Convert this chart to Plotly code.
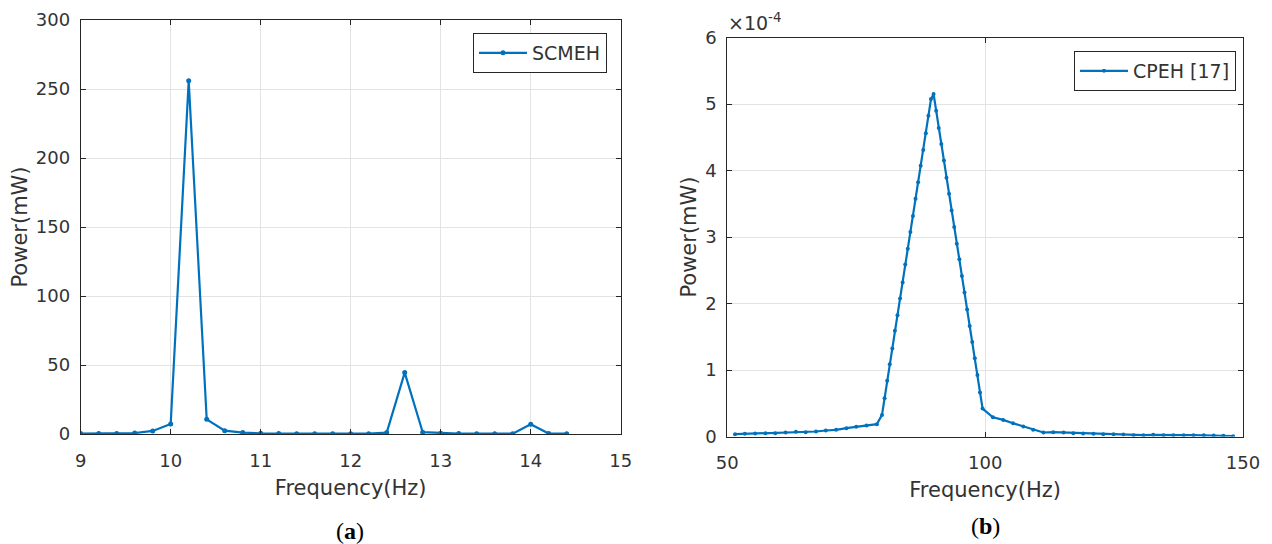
import plotly.graph_objects as go

# (a) SCMEH: output power versus excitation frequency
freq_a = [9.0, 9.2, 9.4, 9.6, 9.8, 10.0, 10.2, 10.4, 10.6, 10.8, 11.0, 11.2, 11.4, 11.6,
          11.8, 12.0, 12.2, 12.4, 12.6, 12.8, 13.0, 13.2, 13.4, 13.6, 13.8, 14.0, 14.2, 14.4]
power_a = [0.3, 0.3, 0.4, 0.7, 2.2, 7.2, 256.0, 10.6, 2.4, 1.0, 0.5, 0.3, 0.2, 0.2,
           0.2, 0.2, 0.2, 1.0, 44.5, 1.3, 0.6, 0.3, 0.2, 0.2, 0.2, 7.0, 0.3, 0.2]

# (b) CPEH [17]: output power in units of 1e-4 mW
freq_b = [51.5, 53.4, 55.4, 57.4, 59.3, 61.3, 63.3, 65.2, 67.2, 69.1, 71.1, 73.1, 75.0, 77.0,
          79.0, 80.0, 80.5, 81.0, 81.5, 82.0, 82.5, 83.0, 83.5, 84.0, 84.5, 85.0, 85.5, 86.0,
          86.5, 87.0, 87.5, 88.0, 88.5, 89.0, 89.5, 90.0, 90.5, 91.0, 91.5, 92.0, 92.5, 93.0,
          93.5, 94.0, 94.5, 95.0, 95.5, 96.0, 96.5, 97.0, 97.5, 98.0, 98.5, 99.0, 99.5,
          101.5, 103.5, 105.4, 107.4, 109.3, 111.3, 113.2, 115.2, 117.1, 119.0, 121.0, 122.9,
          124.9, 126.8, 128.8, 130.7, 132.6, 134.6, 136.5, 138.5, 140.4, 142.4, 144.3, 146.2, 148.1]
power_b = [0.035, 0.04, 0.045, 0.05, 0.05, 0.06, 0.07, 0.065, 0.075, 0.09, 0.10, 0.125, 0.145, 0.165,
           0.185, 0.325, 0.575, 0.84, 1.085, 1.325, 1.59, 1.825, 2.075, 2.315, 2.585, 2.825, 3.075, 3.315,
           3.575, 3.825, 4.07, 4.31, 4.56, 4.825, 5.075, 5.15, 4.90, 4.64, 4.40, 4.15, 3.89, 3.65,
           3.40, 3.15, 2.90, 2.665, 2.415, 2.165, 1.91, 1.66, 1.42, 1.175, 0.925, 0.66, 0.42,
           0.29, 0.25, 0.20, 0.15, 0.10, 0.06, 0.065, 0.06, 0.05, 0.045, 0.04, 0.035,
           0.035, 0.03, 0.02, 0.02, 0.025, 0.02, 0.02, 0.02, 0.02, 0.02, 0.015, 0.01, 0.005]

ticks_a_x = [9, 10, 11, 12, 13, 14, 15]
ticks_a_y = [0, 50, 100, 150, 200, 250, 300]
ticks_b_x = [50, 100, 150]
ticks_b_y = [0, 1, 2, 3, 4, 5, 6]

BLUE = "#0072BD"
AXIS = "#262626"
TEXT = "#333333"
GRID = "#e3e3e3"
FONT = "DejaVu Sans"
W, H = 1272, 544

fig = go.Figure()

fig.add_trace(go.Scatter(
    x=freq_a, y=power_a, mode="lines+markers", name="SCMEH",
    line=dict(color=BLUE, width=2.2), marker=dict(color=BLUE, size=5, symbol="circle"),
    xaxis="x", yaxis="y", legend="legend",
))
fig.add_trace(go.Scatter(
    x=freq_b, y=power_b, mode="lines+markers", name="CPEH [17]",
    line=dict(color=BLUE, width=2.2), marker=dict(color=BLUE, size=4, symbol="circle"),
    xaxis="x2", yaxis="y2", legend="legend2",
))

def px_x(p):
    return p / W

def px_y(p):
    return (H - p) / H

common = dict(
    showline=True, linecolor=AXIS, linewidth=1, mirror="ticks",
    ticks="inside", ticklen=5, tickcolor=AXIS, tickwidth=1,
    showgrid=True, gridcolor=GRID, gridwidth=1, zeroline=False,
    automargin=False,
    tickfont=dict(family=FONT, size=18, color=TEXT),
    title_font=dict(family=FONT, size=21, color=TEXT),
)

fig.update_layout(
    width=W, height=H,
    margin=dict(l=0, r=0, t=0, b=0),
    paper_bgcolor="white", plot_bgcolor="white",
    font=dict(family=FONT, color=TEXT),
    xaxis=dict(domain=[px_x(80.7), px_x(620.7)], range=[9, 15], tickvals=ticks_a_x,
               ticklabelstandoff=10,
               title=dict(text="Frequency(Hz)", standoff=10), anchor="y", **common),
    yaxis=dict(domain=[px_y(434), px_y(20)], range=[0, 300], tickvals=ticks_a_y,
               ticklabelstandoff=6,
               title=dict(text="Power(mW)", standoff=2), anchor="x", **common),
    xaxis2=dict(domain=[px_x(727.3), px_x(1243)], range=[50, 150], tickvals=ticks_b_x,
                ticklabelstandoff=10,
                title=dict(text="Frequency(Hz)", standoff=10), anchor="y2", **common),
    yaxis2=dict(domain=[px_y(436.5), px_y(37.5)], range=[0, 6], tickvals=ticks_b_y,
                ticklabelstandoff=6,
                title=dict(text="Power(mW)", standoff=2), anchor="x2", **common),
    legend=dict(x=px_x(607), y=px_y(33), xanchor="right", yanchor="top",
                bgcolor="white", bordercolor=AXIS, borderwidth=1,
                font=dict(family=FONT, size=19, color=TEXT),
                itemwidth=48, tracegroupgap=0),
    legend2=dict(x=px_x(1236), y=px_y(51), xanchor="right", yanchor="top",
                 bgcolor="white", bordercolor=AXIS, borderwidth=1,
                 font=dict(family=FONT, size=19, color=TEXT),
                 itemwidth=48, tracegroupgap=0),
    showlegend=True,
    annotations=[
        dict(text="×10<sup>-4</sup>", x=px_x(726), y=px_y(36), xref="paper", yref="paper",
             xanchor="left", yanchor="bottom", showarrow=False,
             font=dict(family=FONT, size=19, color=TEXT)),
        dict(text="(<b>a</b>)", x=px_x(350), y=px_y(531), xref="paper", yref="paper",
             xanchor="center", yanchor="middle", showarrow=False,
             font=dict(family="Liberation Serif", size=24, color="black")),
        dict(text="(<b>b</b>)", x=px_x(985), y=px_y(526), xref="paper", yref="paper",
             xanchor="center", yanchor="middle", showarrow=False,
             font=dict(family="Liberation Serif", size=24, color="black")),
    ],
)

fig.write_html("out.html")
